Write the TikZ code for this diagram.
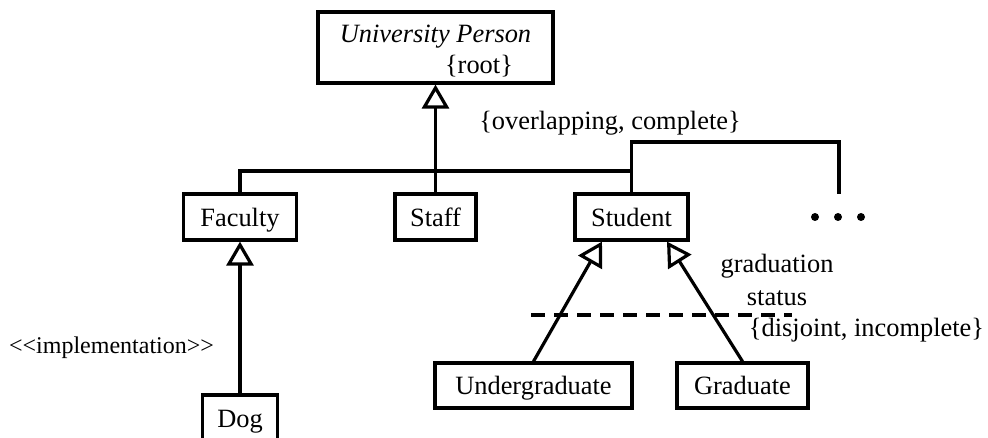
\documentclass[tikz,border=0pt]{standalone}
\usepackage{fontspec}
\setmainfont{Liberation Serif}
\usetikzlibrary{arrows.meta}
\begin{document}
\begin{tikzpicture}[x=1pt,y=-1pt,
  txt/.style={font=\fontsize{26.4}{31}\selectfont, inner sep=0pt},
  lbl/.style={txt, anchor=base},
  cls/.style={txt, draw, line width=3.2pt, minimum height=46pt,
              text height=21pt, text depth=2.5pt},
  wire/.style={line width=3.2pt},
  gen/.style={wire, -{Triangle[open, length=24pt, width=27pt]}},
  ]
\useasboundingbox (0,0) rectangle (988,438);
\clip (0,0) rectangle (988,438);

% class boxes
\node[cls, minimum width=235pt, minimum height=71pt] (up) at (435.5,47.5) {};
\node[lbl, font=\fontsize{26.4}{31}\selectfont\itshape] (upname) at (435.5,43) {University Person};
\node[lbl] (uproot) at (479,74) {\{root\}};

\node[cls, minimum width=113pt] (fac) at (240,217) {Faculty};
\node[cls, minimum width=81pt] (staff) at (435.5,217) {Staff};
\node[cls, minimum width=113pt] (stu) at (631.5,217) {Student};
\node[cls, minimum width=75pt] (dog) at (240,418) {Dog};
\node[cls, minimum width=197pt, minimum height=45pt] (ug) at (533.5,385.5) {Undergraduate};
\node[cls, minimum width=131pt, minimum height=45pt] (gr) at (742.5,385.5) {Graduate};

% free labels
\node[lbl] (ovl) at (610,130) {\{overlapping, complete\}};
\node[lbl] (grad1) at (777,273) {graduation};
\node[lbl] (grad2) at (777,306) {status};
\node[lbl] (disj) at (866.5,337) {\{disjoint, incomplete\}};
\node[lbl, font=\fontsize{24}{28}\selectfont] (impl) at (111.5,353) {<\kern0pt<implementation>\kern0pt>};

% helper points
\coordinate (bar) at (0,171);
\coordinate (top) at (0,142);
\coordinate (more) at (839,194);
\coordinate (dl) at (531,315);
\coordinate (dr) at (792,315);

% generalization tree under University Person
\draw[gen] (staff.north) -- (up.south);
\draw[wire] (fac.north) |- (bar -| stu.north) -- (stu.north);
\draw[wire] (stu.north) |- (top -| more) -- (more);

% further subclasses
\fill (815,217) circle (4pt);
\fill (838,217) circle (4pt);
\fill (861,217) circle (4pt);

% Faculty <- Dog
\draw[gen] (dog.north) -- (fac.south);

% Student subclasses
\draw[gen] (ug.north) -- ([xshift=-29.5pt]stu.south);
\draw[gen] (gr.north) -- ([xshift=35.5pt]stu.south);
\draw[wire, dash pattern=on 14pt off 9pt] (dl) -- (dr);
\end{tikzpicture}
\end{document}
